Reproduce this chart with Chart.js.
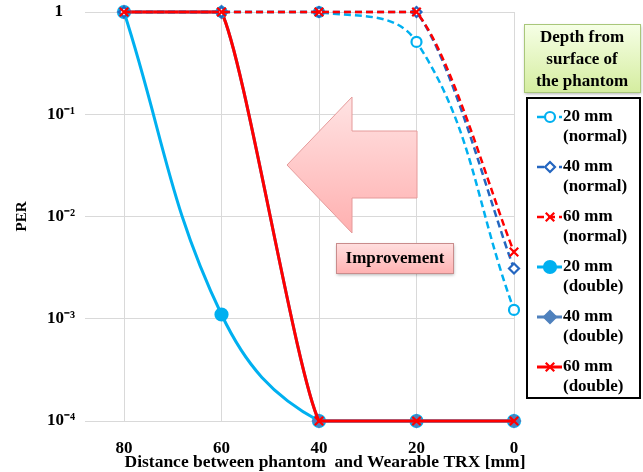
<!DOCTYPE html>
<html>
<head>
<meta charset="utf-8">
<script src="https://cdn.jsdelivr.net/npm/chart.js@4.4.1/dist/chart.umd.min.js"></script>
<style>
	body { margin: 0; background: #fff; }
	#wrap { width: 643px; height: 472px; }
</style>
</head>
<body>
<div id="wrap"><canvas id="chartPer" width="643" height="472"></canvas></div>
<script>
// Datos
const distancias = [80, 60, 40, 20, 0];
const per20Normal = [1, 1, 1, 0.51, 0.00122];
const per40Normal = [1, 1, 1, 1, 0.0031];
const per60Normal = [1, 1, 1, 1, 0.0045];
const per20Double = [1, 0.0011, 0.0001, 0.0001, 0.0001];
const per40Double = [1, 1, 0.0001, 0.0001, 0.0001];
const per60Double = [1, 1, 0.0001, 0.0001, 0.0001];

const yTicks = [1, 0.1, 0.01, 0.001, 0.0001];
const yTickLabels = ['1\u2002\u2009', '10⁻¹', '10⁻²', '10⁻³', '10⁻⁴'];
const seriesNames = [
	['20 mm', '(normal)'], ['40 mm', '(normal)'], ['60 mm', '(normal)'],
	['20 mm', '(double)'], ['40 mm', '(double)'], ['60 mm', '(double)']
];
const titleLines = ['Depth from', 'surface of', 'the phantom'];
const xTitle = 'Distance between phantom  and Wearable TRX [mm]';
const yTitle = 'PER';
const noteText = 'Improvement';

const FONT = "'Liberation Serif', 'Times New Roman', serif";
const celeste = '#00b0f0';
const azul = '#2466c0';
const azulAcero = '#4f81bd';
const rojo = '#ff0000';

function puntos(serie) {
	return distancias.map((d, i) => ({ x: d, y: serie[i] }));
}

function serie(idx, data, color, dash, style, radius, fill, width, tension, order) {
	return {
		label: seriesNames[idx].join(' '),
		data: puntos(data),
		borderColor: color,
		backgroundColor: color,
		borderWidth: width,
		borderDash: dash,
		tension: tension,
		pointStyle: style,
		pointRadius: radius,
		pointBackgroundColor: fill,
		pointBorderColor: color,
		pointBorderWidth: 2.2,
		clip: false,
		order: order
	};
}

// Tramos horizontales rectos (como en la hoja de calculo)
const suavizadoPlugin = {
	id: 'suavizado',
	beforeDatasetsDraw(chart) {
		chart.getSortedVisibleDatasetMetas().forEach(meta => {
			meta.dataset.updateControlPoints(chart.chartArea, meta.iScale.axis);
			const pts = meta.data;
			for (let i = 0; i < pts.length - 1; i++) {
				if (Math.abs(pts[i].y - pts[i + 1].y) < 0.5) {
					pts[i].cp2y = pts[i].y;
					pts[i + 1].cp1y = pts[i + 1].y;
				}
			}
		});
	}
};

// Flecha de mejora (debajo de las curvas)
const flechaPlugin = {
	id: 'flecha',
	beforeDatasetsDraw(chart) {
		const ctx = chart.ctx;
		ctx.save();
		const g = ctx.createLinearGradient(0, 97, 0, 233);
		g.addColorStop(0, '#ffe3e3');
		g.addColorStop(1, '#ffb0b0');
		ctx.beginPath();
		ctx.moveTo(287, 165);
		ctx.lineTo(352, 97);
		ctx.lineTo(352, 131);
		ctx.lineTo(417, 131);
		ctx.lineTo(417, 198);
		ctx.lineTo(352, 198);
		ctx.lineTo(352, 233);
		ctx.closePath();
		ctx.fillStyle = g;
		ctx.fill();
		ctx.strokeStyle = '#e59a9a';
		ctx.lineWidth = 1;
		ctx.stroke();
		ctx.restore();
	}
};

function sombra(ctx) {
	ctx.shadowColor = 'rgba(0,0,0,0.3)';
	ctx.shadowBlur = 3;
	ctx.shadowOffsetX = 1;
	ctx.shadowOffsetY = 2;
}

// Cajas de texto y leyenda
const anotacionesPlugin = {
	id: 'anotaciones',
	afterDraw(chart) {
		const ctx = chart.ctx;
		ctx.save();

		// titulo eje x
		ctx.fillStyle = '#000';
		ctx.font = 'bold 17.5px ' + FONT;
		ctx.textAlign = 'center';
		ctx.textBaseline = 'middle';
		ctx.fillText(xTitle, 325, 462);

		// caja "Improvement"
		ctx.save();
		sombra(ctx);
		let g = ctx.createLinearGradient(0, 243, 0, 273);
		g.addColorStop(0, '#ffe0e0');
		g.addColorStop(1, '#ffb2b2');
		ctx.fillStyle = g;
		ctx.fillRect(336, 243, 117, 30);
		ctx.restore();
		ctx.strokeStyle = '#c98c8c';
		ctx.lineWidth = 1;
		ctx.strokeRect(336.5, 243.5, 117, 30);
		ctx.fillStyle = '#000';
		ctx.font = 'bold 17px ' + FONT;
		ctx.fillText(noteText, 395, 259);

		// caja titulo leyenda
		ctx.save();
		sombra(ctx);
		g = ctx.createLinearGradient(0, 24, 0, 92);
		g.addColorStop(0, '#f6ffe6');
		g.addColorStop(1, '#d5eda0');
		ctx.fillStyle = g;
		ctx.fillRect(524, 24, 116, 68);
		ctx.restore();
		ctx.strokeStyle = '#a9c77a';
		ctx.strokeRect(524.5, 24.5, 116, 68);
		ctx.fillStyle = '#000';
		ctx.font = 'bold 17px ' + FONT;
		titleLines.forEach((t, i) => ctx.fillText(t, 582, 38 + i * 22));

		// leyenda
		ctx.strokeStyle = '#000';
		ctx.lineWidth = 2;
		ctx.strokeRect(527, 98, 113, 300);
		ctx.textAlign = 'left';
		chart.data.datasets.forEach((ds, i) => {
			const y = 117 + i * 50;
			ctx.save();
			ctx.strokeStyle = ds.borderColor;
			ctx.lineWidth = ds.borderWidth;
			ctx.setLineDash(ds.borderDash || []);
			ctx.beginPath();
			ctx.moveTo(537, y);
			ctx.lineTo(562, y);
			ctx.stroke();
			ctx.setLineDash([]);
			ctx.fillStyle = ds.pointBackgroundColor;
			ctx.strokeStyle = ds.pointBorderColor;
			ctx.lineWidth = ds.pointBorderWidth;
			Chart.helpers.drawPoint(ctx, {
				pointStyle: ds.pointStyle,
				radius: ds.pointRadius,
				borderWidth: ds.pointBorderWidth,
				rotation: 0
			}, 550, y);
			ctx.restore();
			ctx.fillStyle = '#000';
			ctx.font = 'bold 17px ' + FONT;
			ctx.fillText(seriesNames[i][0], 563, y);
			ctx.fillText(seriesNames[i][1], 563, y + 20);
		});
		ctx.restore();
	}
};

const ctx = document.getElementById('chartPer').getContext('2d');
const chartPer = new Chart(ctx, {
	type: 'line',
	data: {
		datasets: [
			serie(0, per20Normal, celeste, [7, 4], 'circle', 5, '#ffffff', 2.5, 0.4, 3),
			serie(1, per40Normal, azul, [7, 4], 'rectRot', 5, '#ffffff', 2.5, 0.25, 2),
			serie(2, per60Normal, rojo, [7, 4], 'crossRot', 6, rojo, 2.5, 0.25, 1),
			serie(3, per20Double, celeste, [], 'circle', 6, celeste, 3, 0.4, 6),
			serie(4, per40Double, azulAcero, [], 'rectRot', 6, azulAcero, 3, 0.15, 5),
			serie(5, per60Double, rojo, [], 'crossRot', 6, rojo, 3, 0.15, 4)
		]
	},
	options: {
		responsive: false,
		animation: false,
		layout: { padding: { top: 12, right: 129, left: 0, bottom: 0 } },
		elements: { line: { capBezierPoints: false } },
		plugins: {
			legend: { display: false },
			tooltip: { enabled: false }
		},
		scales: {
			x: {
				type: 'linear',
				reverse: true,
				min: 0,
				max: 88,
				afterBuildTicks: scale => { scale.ticks = distancias.map(v => ({ value: v })); },
				afterFit: scale => {
					scale.height = 51;
					scale.paddingLeft = 0;
					scale.paddingRight = 0;
				},
				grid: { color: '#d9d9d9', drawTicks: false },
				border: { display: false },
				ticks: {
					padding: 17,
					color: '#000',
					font: { family: FONT, size: 17, weight: 'bold' },
					maxRotation: 0
				}
			},
			y: {
				type: 'logarithmic',
				min: 0.0001,
				max: 1,
				afterBuildTicks: scale => { scale.ticks = yTicks.map(v => ({ value: v })); },
				afterFit: scale => {
					scale.width = 85;
					scale.paddingTop = 0;
					scale.paddingBottom = 0;
				},
				grid: { color: '#d9d9d9', drawTicks: false },
				border: { display: false },
				ticks: {
					padding: 10,
					color: '#000',
					font: { family: FONT, size: 17, weight: 'bold' },
					callback: value => {
						const i = yTicks.findIndex(t => Math.abs(t - value) / t < 1e-6);
						return i >= 0 ? yTickLabels[i] : '';
					}
				},
				title: {
					display: true,
					text: yTitle,
					color: '#000',
					font: { family: FONT, size: 15, weight: 'bold' },
					padding: { top: 13, bottom: 0 }
				}
			}
		}
	},
	plugins: [suavizadoPlugin, flechaPlugin, anotacionesPlugin]
});
</script>
</body>
</html>
